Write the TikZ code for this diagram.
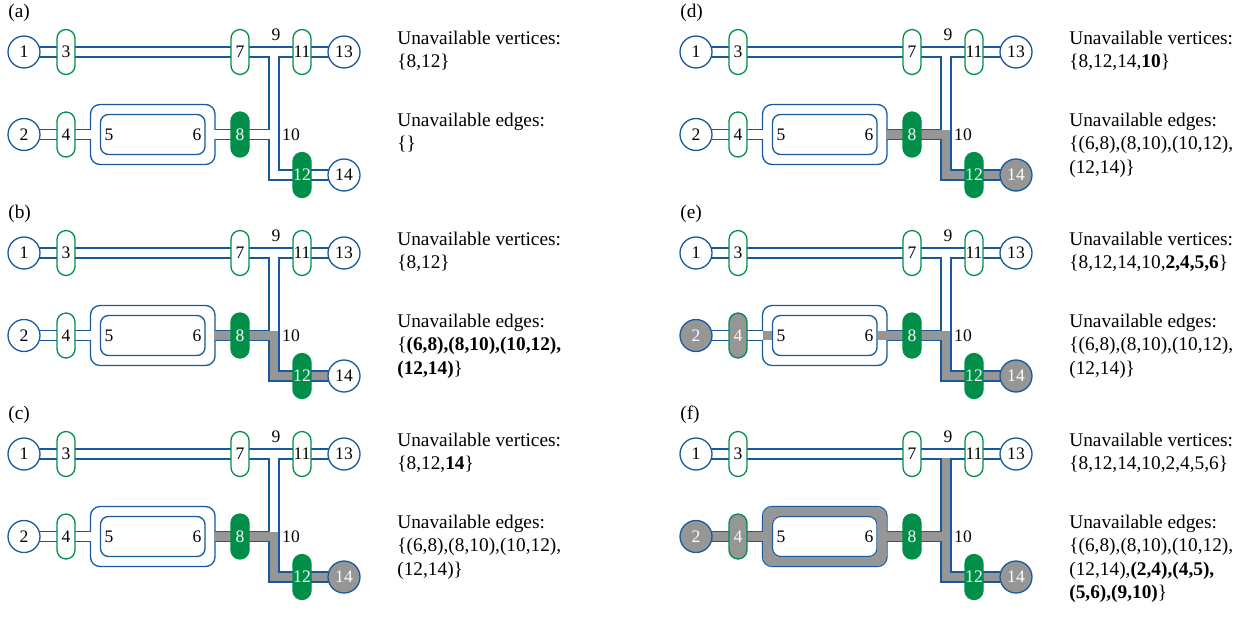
\documentclass[tikz,border=0pt]{standalone}
\usepackage{fontspec}
\setmainfont{Liberation Serif}
\usetikzlibrary{backgrounds}

\definecolor{netblue}{RGB}{24,88,156}
\definecolor{netgreen}{RGB}{0,142,72}
\definecolor{netgray}{RGB}{150,150,150}

\tikzset{
  circ/.style={circle,draw=netblue,line width=0.026cm,fill=white,
    minimum size=0.64cm,inner sep=0pt},
  pill/.style={rectangle,rounded corners=0.18cm,draw=netgreen,line width=0.026cm,
    fill=white,minimum width=0.36cm,minimum height=0.9cm,inner sep=0pt},
  full/.style={fill=netgreen,text=white},
  dead/.style={fill=netgray,text=white},
  pipeout/.style={draw=netblue,line width=0.226cm},
  pipein/.style={draw=white,line width=0.174cm},
  pipeoff/.style={draw=netgray,line width=0.174cm},
  st2/.style={},st4/.style={},st14/.style={},
  info/.style={align=left,anchor=north west,inner sep=0pt,
    font=\fontsize{11}{13.2}\selectfont}
}

% pipes of the network, drawn once blue and once white
\newcommand{\pipes}[1]{%
  \draw[#1] (n1.center) -- (n13.center);
  \draw[#1] (v9) -- (v10) -- (bend) -- (n14.center);
  \draw[#1] (n2.center) -- (w5);
  \draw[#1] (w6) -- (v10);
}

% #1 letter, #2 grey overlay, #3 vertex set, #4 edge set
\newcommand{\network}[4]{%
  \node[circ] (n1) at (24,52) {1};
  \node[pill] (n3) at (66,52) {3};
  \node[pill] (n7) at (240,52) {7};
  \node[pill] (n11) at (302,52) {11};
  \node[circ] (n13) at (344,52) {13};
  \node[circ,st2] (n2) at (24,134.5) {2};
  \node[pill,st4] (n4) at (66,134.5) {4};
  \node[pill,full] (n8) at (240,134.5) {8};
  \node[pill,full] (n12) at (302,175) {12};
  \node[circ,st14] (n14) at (344,175) {14};
  \node (n5) at (109,134.5) {5};
  \node (n6) at (197,134.5) {6};
  \node (n9) at (276,35) {9};
  \node (n10) at (291,135) {10};
  \coordinate (v9) at (274,52);
  \coordinate (v10) at (274,134.5);
  \coordinate (bend) at (274,175);
  \coordinate (w5) at (95.5,134.5);
  \coordinate (w6) at (210,134.5);
  \node[anchor=base west,inner sep=0pt,font=\fontsize{11}{13.2}\selectfont] (lab) at (8,17) {(#1)};
  \node[info] (unv) at (397,31) {Unavailable vertices:\\#3};
  \node[info] (une) at (397,113) {Unavailable edges:\\#4};
  \begin{pgfonlayer}{background}
    \pipes{pipeout}
    % ring through 5 and 6
    \draw[netblue,line width=0.026cm,fill=white,rounded corners=0.19cm]
      (90.5,104.5) rectangle (215,164.5);
    \draw[netblue,line width=0.026cm,fill=white,rounded corners=0.16cm]
      (100.5,114.5) rectangle (205,154.5);
    \pipes{pipein}
    #2
  \end{pgfonlayer}
}

\begin{document}
\begin{tikzpicture}[x=0.02cm,y=-0.02cm,font=\fontsize{10}{12}\selectfont]

\useasboundingbox (0,0) rectangle (1241,616);

\begin{scope}[name prefix=a-]
  \network{a}{}{\{8,12\}}{\{\}}
\end{scope}

\begin{scope}[shift={(0,201)},name prefix=b-]
  \network{b}{%
    \draw[pipeoff] (214.35,134.5) -- (v10) -- (bend) -- (n14.center);
  }{\{8,12\}}{\{\textbf{(6,8),(8,10),(10,12),}\\\textbf{(12,14)}\}}
\end{scope}

\begin{scope}[shift={(0,402)},name prefix=c-,st14/.style={dead}]
  \network{c}{%
    \draw[pipeoff] (214.35,134.5) -- (v10) -- (bend) -- (n14.center);
  }{\{8,12,\textbf{14}\}}{\{(6,8),(8,10),(10,12),\\(12,14)\}}
\end{scope}

\begin{scope}[shift={(672,0)},name prefix=d-,st14/.style={dead}]
  \network{d}{%
    \draw[pipeoff] (214.35,134.5) -- (v10) -- (bend) -- (n14.center);
  }{\{8,12,14,\textbf{10}\}}{\{(6,8),(8,10),(10,12),\\(12,14)\}}
\end{scope}

\begin{scope}[shift={(672,201)},name prefix=e-,
    st2/.style={dead},st4/.style={dead},st14/.style={dead}]
  \network{e}{%
    \fill[netgray] (91.15,130.15) rectangle (99.85,138.85);
    \draw[pipeoff] (205.65,134.5) -- (v10) -- (bend) -- (n14.center);
  }{\{8,12,14,10,\textbf{2,4,5,6}\}}{\{(6,8),(8,10),(10,12),\\(12,14)\}}
\end{scope}

\begin{scope}[shift={(672,402)},name prefix=f-,
    st2/.style={dead},st4/.style={dead},st14/.style={dead}]
  \network{f}{%
    \fill[netgray,even odd rule,rounded corners=0.17cm]
      (91.15,105.15) rectangle (214.35,163.85)
      (99.85,113.85) rectangle (205.65,155.15);
    \draw[pipeoff] (n2.center) -- (w5);
    \draw[pipeoff] (205.65,134.5) -- (v10) -- (bend) -- (n14.center);
    \draw[pipeoff] (274,56.35) -- (v10);
  }{\{8,12,14,10,2,4,5,6\}}{\{(6,8),(8,10),(10,12),\\(12,14),\textbf{(2,4),(4,5),}\\\textbf{(5,6),(9,10)}\}}
\end{scope}

\end{tikzpicture}
\end{document}
